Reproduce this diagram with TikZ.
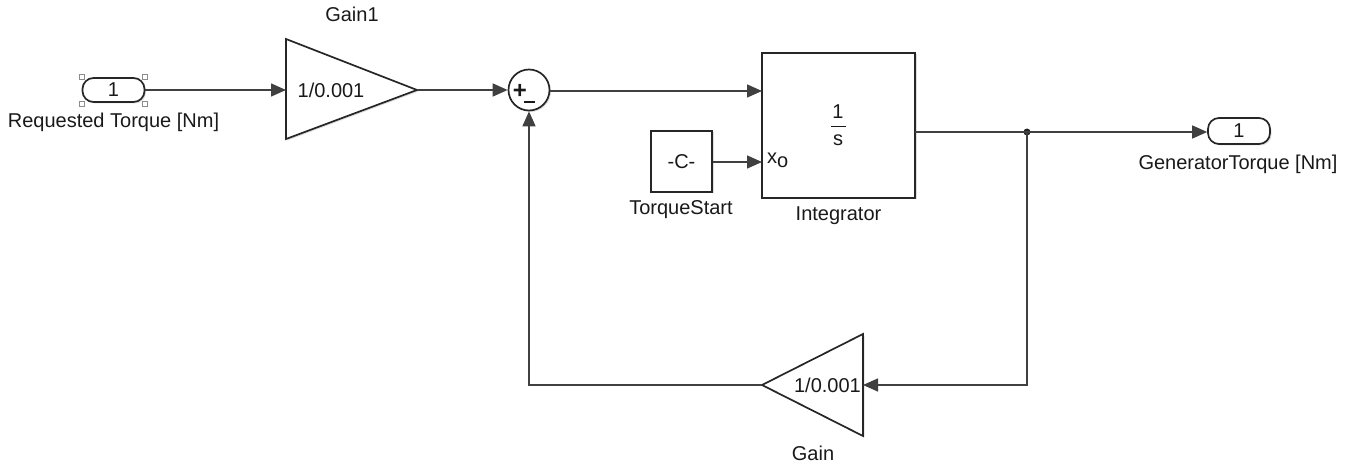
\documentclass[tikz,border=0pt]{standalone}
\usepackage{fontspec}
\setmainfont{Liberation Sans}
\usetikzlibrary{arrows.meta,shadows}
\begin{document}
\begin{tikzpicture}[x=1pt,y=-1pt,
  every node/.style={font=\fontsize{20}{23}\selectfont, text=black!90, inner sep=0pt},
  wire/.style={draw=black!75, line width=1.5pt},
  arr/.style={wire, -{Triangle[length=15pt,width=13pt]}},
  blk/.style={draw=black!85, line width=1.7pt, fill=white, drop shadow={opacity=0.25, shadow xshift=1.5pt, shadow yshift=-1.5pt}},
  port/.style={blk, rounded corners=11pt, minimum width=62pt, minimum height=24pt},
  handle/.style={draw=black!45, fill=white, line width=0.7pt, minimum size=5pt},
  lbl/.style={font=\fontsize{20}{23}\selectfont}
]
\useasboundingbox (0,0) rectangle (1357,465);

% Inport
\node[port] (in1) at (113.5,90) {1};
\node[handle] (h1) at (82,77) {};
\node[handle] (h2) at (145,77) {};
\node[handle] (h3) at (82,104) {};
\node[handle] (h4) at (145,104) {};
\node[lbl] (in1l) at (113.5,122) {Requested Torque [Nm]};

% Gain1
\coordinate (g1in) at (286,90);
\coordinate (g1out) at (417,90);
\draw[blk] (286,39) -- (417,90) -- (286,139) -- cycle;
\node (g1t) at (331,90) {1/0.001};
\node[lbl] (g1l) at (352,14) {Gain1};

% Sum
\node[blk, circle, minimum size=41pt] (sum) at (529,90) {};
\node[font=\fontsize{24}{26}\selectfont\bfseries] (plus) at (520,91) {+};
\draw[black!90, line width=2pt] (524,102) -- (535,102);
\coordinate (minus) at (529,102);

% Integrator
\node[blk, minimum width=153pt, minimum height=145pt] (int) at (838.5,125.5) {};
\coordinate (intin) at (762,91);
\coordinate (intx0) at (762,162);
\coordinate (intout) at (915,132);
\node (one) at (838,112) {1};
\draw[black!90, line width=1.4pt] (831,126.5) -- (846,126.5);
\node (s) at (838,140) {s};
\node[anchor=west] (x0) at (767,160) {x\raisebox{-0.35ex}{o}};
\node[lbl] (intl) at (838.5,216) {Integrator};

% Constant
\node[blk, minimum width=61pt, minimum height=61pt] (const) at (681.5,161.5) {-C-};
\node[lbl] (constl) at (681,210) {TorqueStart};

% Outport
\node[port, minimum height=26pt] (out1) at (1239,131) {1};
\node[lbl] (out1l) at (1238,164) {GeneratorTorque [Nm]};

% Junction
\coordinate (junc) at (1027,132);
\fill[black!85] (junc) circle (3.5pt);

% Gain (feedback)
\coordinate (gin) at (863,385);
\coordinate (gout) at (762,385);
\draw[blk] (863,334) -- (863,436) -- (762,385) -- cycle;
\node[anchor=east] (gt) at (861,385) {1/0.001};
\node[lbl] (gl) at (813,453) {Gain};

% Connectors
\draw[arr] (in1.east) -- (g1in);
\draw[arr] (g1out) -- (sum.west);
\draw[arr] (sum.east |- intin) -- (intin);
\draw[arr] (const.east |- intx0) -- (intx0);
\draw[wire] (intout) -- (junc);
\draw[arr] (junc) -- (out1.west |- junc);
\draw[arr] (junc) |- (gin);
\draw[arr] (gout) -| (sum.south);
\end{tikzpicture}
\end{document}
